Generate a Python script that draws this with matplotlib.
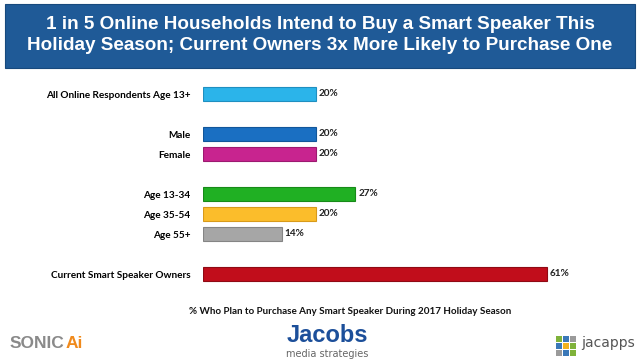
import matplotlib.pyplot as plt
from matplotlib.patches import Rectangle

categories = ['All Online Respondents Age 13+', 'Male', 'Female',
              'Age 13-34', 'Age 35-54', 'Age 55+',
              'Current Smart Speaker Owners']
values = [20, 20, 20, 27, 20, 14, 61]
slots = [0, 2, 3, 5, 6, 7, 9]
colors = ['#2bb4ea', '#1a6fc2', '#c8248f', '#20b023', '#fbbd2b', '#a6a6a6', '#c10d1b']
edges = ['#1f8fc0', '#12569a', '#9c1a70', '#178a18', '#d89a1a', '#858585', '#8f0a14']

title = ('1 in 5 Online Households Intend to Buy a Smart Speaker This\n'
         'Holiday Season; Current Owners 3x More Likely to Purchase One')
xlabel = '% Who Plan to Purchase Any Smart Speaker During 2017 Holiday Season'

W, H = 640, 361
fig = plt.figure(figsize=(W / 100, H / 100), dpi=100)
fig.patch.set_facecolor('white')

# title banner
fig.patches.append(Rectangle((5 / W, 1 - 68 / H), 630 / W, 64 / H,
                             transform=fig.transFigure, facecolor='#1f5a97',
                             edgecolor='#17497d', lw=0.8))
fig.text(0.5, 1 - 35 / H, title, ha='center', va='center', color='white',
         fontsize=13.6, fontweight='bold', family='Liberation Sans',
         linespacing=1.3)

ax = fig.add_axes([203 / W, (H - 284) / H, 395 / W, 200 / H])
ax.barh(slots, values, height=0.72, color=colors, edgecolor=edges, linewidth=0.8)
ax.set_xlim(0, 70)
ax.set_ylim(9.5, -0.5)
ax.set_yticks(slots)
ax.set_yticklabels(categories, fontsize=7.2, fontweight='bold', family='Lato')
ax.tick_params(axis='y', length=0, pad=9)
ax.set_xticks([])
for s in ax.spines.values():
    s.set_visible(False)
for y, v in zip(slots, values):
    ax.text(v + 0.5, y, f'{v}%', va='center', ha='left', fontsize=7.2,
            fontweight='bold', family='Lato', color='#222222')

fig.text(350 / W, 1 - 312 / H, xlabel, ha='center', va='center',
         fontsize=7.1, fontweight='bold', family='Lato', color='#111111')

# logos as text
fig.text(10 / W, 1 - 343 / H, 'SONIC', ha='left', va='center', fontsize=12.5,
         fontweight='bold', family='Liberation Sans', color='#8a8a8a')
fig.text(66 / W, 1 - 343 / H, 'Ai', ha='left', va='center', fontsize=12.5,
         fontweight='bold', family='Liberation Sans', color='#f08a1c')
fig.text(327 / W, 1 - 335 / H, 'Jacobs', ha='center', va='center', fontsize=17,
         fontweight='bold', family='Liberation Sans', color='#1c4f9a')
fig.text(327 / W, 1 - 354 / H, 'media strategies', ha='center', va='center',
         fontsize=7, family='DejaVu Sans', color='#666666')

# jacapps mark: small grid of squares + name
grid = ['#7fb23a', '#3a78b8', '#9a9a9a',
        '#3a78b8', '#f2b21e', '#7fb23a',
        '#9a9a9a', '#3a78b8', '#7fb23a']
for i, c in enumerate(grid):
    r, k = divmod(i, 3)
    fig.patches.append(Rectangle(((556 + k * 7) / W, 1 - (336 + r * 7 + 6) / H),
                                 6 / W, 6 / H, transform=fig.transFigure,
                                 facecolor=c, edgecolor='none'))
fig.text(581 / W, 1 - 343 / H, 'jacapps', ha='left', va='center', fontsize=10,
         family='DejaVu Sans', color='#555555')

fig.savefig('out.png', dpi=100)
